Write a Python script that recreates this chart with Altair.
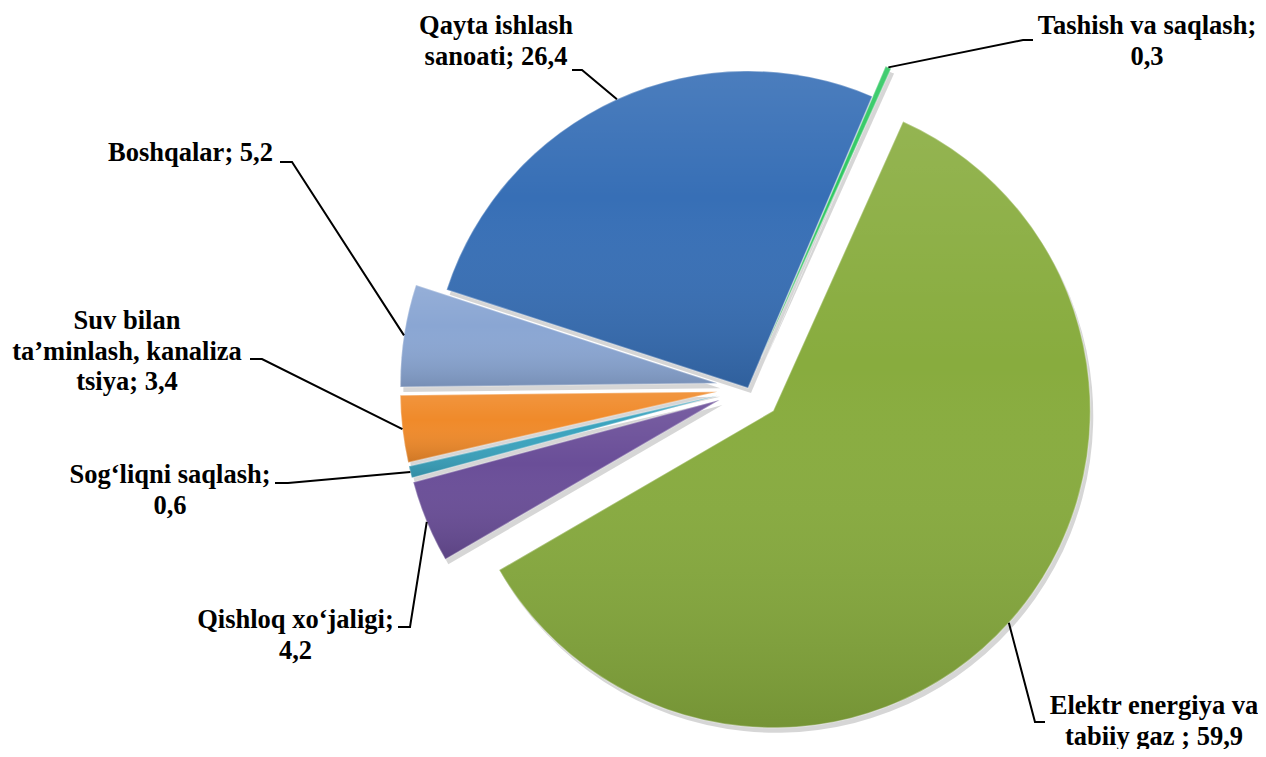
import altair as alt
import numpy as np
import pandas as pd

# ---------------- data ----------------
categories = [
    "Tashish va saqlash",
    "Elektr energiya va tabiiy gaz",
    "Qishloq xo‘jaligi",
    "Sog‘liqni saqlash",
    "Suv bilan ta’minlash, kanalizatsiya",
    "Boshqalar",
    "Qayta ishlash sanoati",
]
values = [0.3, 59.9, 4.2, 0.6, 3.4, 5.2, 26.4]
label_prefix = [
    "Tashish va saqlash;\n",
    "Elektr energiya va\ntabiiy gaz ; ",
    "Qishloq xo‘jaligi;\n",
    "Sog‘liqni saqlash;\n",
    "Suv bilan\nta’minlash, kanaliza\ntsiya; ",
    "Boshqalar; ",
    "Qayta ishlash\nsanoati; ",
]

# ---------------- style / layout ----------------
colors = ["#2FC862", "#88AC3E", "#6A4E98", "#3AA3BE", "#F08A2A", "#8AA6D3", "#376FB6"]
W, H = 1250, 741
CX, CY = 740, 380
R = 317
START_DEG = 23.1
explode = [33, 34, 31, 31, 31, 31, 0]
label_first_line = [(1139, 18), (1146, 698), (287.5, 612), (162, 467),
                    (119, 313), (182.5, 145), (488, 18)]
leader_elbow = [(1015, 32), (1027, 714), (402, 619), (280, 475),
                (254, 351), (284, 154), (574, 62)]
leader_end = [(1025, 32), (1037, 714), (390, 619), (267, 475),
              (242, 351), (272, 154), (564, 62)]

# ---------------- derived tables ----------------
v = np.array(values, dtype=float)
total = v.sum()
t1 = np.cumsum(v)
t0 = t1 - v
mid = np.radians(START_DEG + 360.0 * (t0 + t1) / 2.0 / total)
ex = np.array(explode, dtype=float)
cx = CX + ex * np.sin(mid)
cy = CY - ex * np.cos(mid)

arcs = pd.DataFrame({
    "cat": categories, "value": v, "t0": t0, "t1": t1,
    "cx": cx, "cy": cy, "sx": cx + 3, "sy": cy + 5,
})

labels = pd.DataFrame({
    "cat": categories,
    "label": [p + f"{val:.1f}".replace(".", ",") for p, val in zip(label_prefix, values)],
    "x": [p[0] for p in label_first_line],
    "y": [p[1] for p in label_first_line],
})

rows = []
for i, c in enumerate(categories):
    sx0 = CX + (R + ex[i]) * np.sin(mid[i])
    sy0 = CY - (R + ex[i]) * np.cos(mid[i])
    pts = [(sx0, sy0), leader_elbow[i], leader_end[i]]
    for k, (px, py) in enumerate(pts):
        rows.append({"cat": c, "k": k, "x": px, "y": py})
leaders = pd.DataFrame(rows)

s0 = np.radians(START_DEG)
theta_scale = alt.Scale(domain=[0, total], range=[s0, s0 + 2 * np.pi])
color_scale = alt.Scale(domain=categories, range=colors)

shadow = alt.Chart(arcs).mark_arc(radius=R, fill="#000000", fillOpacity=0.16).encode(
    x=alt.X("sx:Q", scale=None), y=alt.Y("sy:Q", scale=None),
    theta=alt.Theta("t0:Q", scale=theta_scale, stack=None), theta2="t1:Q",
)

base = alt.Chart(arcs).mark_arc(radius=R).encode(
    x=alt.X("cx:Q", scale=None), y=alt.Y("cy:Q", scale=None),
    theta=alt.Theta("t0:Q", scale=theta_scale, stack=None), theta2="t1:Q",
    color=alt.Color("cat:N", scale=color_scale, legend=None),
)

grad = alt.Gradient(
    gradient="linear", x1=0, x2=0, y1=0, y2=1,
    stops=[
        alt.GradientStop(color="rgba(255,255,255,0.10)", offset=0),
        alt.GradientStop(color="rgba(255,255,255,0)", offset=0.4),
        alt.GradientStop(color="rgba(0,0,0,0.14)", offset=1),
    ],
)
overlay = alt.Chart(arcs).mark_arc(
    radius=R, fill=grad, stroke="#ffffff", strokeOpacity=0.3, strokeWidth=1.5,
).encode(
    x=alt.X("cx:Q", scale=None), y=alt.Y("cy:Q", scale=None),
    theta=alt.Theta("t0:Q", scale=theta_scale, stack=None), theta2="t1:Q",
)

lines = alt.Chart(leaders).mark_line(color="#000000", strokeWidth=2).encode(
    x=alt.X("x:Q", scale=None), y=alt.Y("y:Q", scale=None),
    detail="cat:N", order="k:Q",
)

text = alt.Chart(labels).mark_text(
    font="Liberation Serif, Times New Roman, DejaVu Serif, serif", fontWeight="bold",
    fontSize=26.5, lineBreak="\n", lineHeight=30.5, align="center",
    baseline="middle", color="#000000",
).encode(
    x=alt.X("x:Q", scale=None), y=alt.Y("y:Q", scale=None), text="label:N",
)

chart = alt.layer(shadow, base, overlay, lines, text).properties(
    width=W, height=H, padding=0, autosize="none", background="#ffffff",
).configure_view(stroke=None)

chart.save("out.html", embed_options={"renderer": "svg", "actions": False})
